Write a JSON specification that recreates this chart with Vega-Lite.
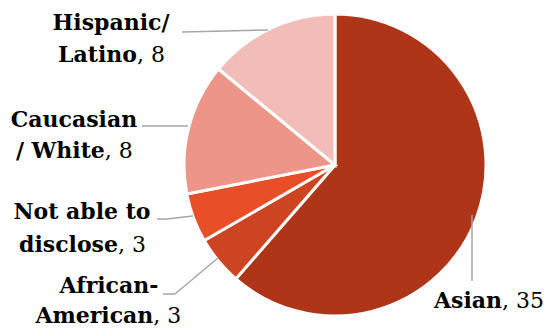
{
  "$schema": "https://vega.github.io/schema/vega-lite/v6.json",
  "width": 547,
  "height": 329,
  "autosize": {"type": "fit", "contains": "padding"},
  "padding": 0,
  "background": "white",
  "config": {"view": {"stroke": null}},
  "data": {"values": [
    {"category": "Asian", "count": 35, "rank": 1, "line1": "", "line2": "Asian"},
    {"category": "African-American", "count": 3, "rank": 2, "line1": "African-", "line2": "American"},
    {"category": "Not able to disclose", "count": 3, "rank": 3, "line1": "Not able to", "line2": "disclose"},
    {"category": "Caucasian / White", "count": 8, "rank": 4, "line1": "Caucasian", "line2": "/ White"},
    {"category": "Hispanic/ Latino", "count": 8, "rank": 5, "line1": "Hispanic/", "line2": "Latino"}
  ]},
  "transform": [
    {"window": [{"op": "sum", "field": "count", "as": "cum"}], "sort": [{"field": "rank"}], "frame": [null, 0]},
    {"joinaggregate": [{"op": "sum", "field": "count", "as": "total"}]},
    {"calculate": "2*PI*(datum.cum - datum.count/2)/datum.total", "as": "mid"},
    {"calculate": "151*sin(datum.mid)", "as": "ex"},
    {"calculate": "151*cos(datum.mid)", "as": "ey"},
    {"calculate": "', ' + datum.count", "as": "countText"}
  ],
  "encoding": {
    "x": {"field": "ex", "type": "quantitative", "scale": {"domain": [-335, 212], "nice": false, "zero": false}, "axis": null},
    "y": {"field": "ey", "type": "quantitative", "scale": {"domain": [-164, 165], "nice": false, "zero": false}, "axis": null}
  },
  "layer": [
    {
      "mark": {"type": "arc", "outerRadius": 151, "stroke": "white", "strokeWidth": 3},
      "encoding": {
        "x": {"datum": 0, "type": "quantitative"},
        "y": {"datum": 0, "type": "quantitative"},
        "theta": {"field": "count", "type": "quantitative", "stack": true},
        "order": {"field": "rank", "type": "quantitative"},
        "color": {"field": "category", "type": "nominal", "legend": null,
          "scale": {"domain": ["Asian", "African-American", "Not able to disclose", "Caucasian / White", "Hispanic/ Latino"],
                    "range": ["#AF3519", "#CC4520", "#E84E27", "#EE958A", "#F2BDB8"]}}
      }
    },
    {"transform": [{"filter": "datum.category === 'Hispanic/ Latino'"}],
     "mark": {"type": "rule", "color": "#A6A6A6", "strokeWidth": 1.5, "xOffset": -2.5, "yOffset": 1.5, "x2Offset": -88.5, "y2Offset": 3.5},
     "encoding": {"x2": {"field": "ex"}, "y2": {"field": "ey"}}},
    {"transform": [{"filter": "datum.category === 'Caucasian / White'"}],
     "mark": {"type": "rule", "color": "#A6A6A6", "strokeWidth": 1.5, "xOffset": -0.6, "yOffset": -1.9, "x2Offset": -46.6, "y2Offset": -1.9},
     "encoding": {"x2": {"field": "ex"}, "y2": {"field": "ey"}}},
    {"transform": [{"filter": "datum.category === 'Not able to disclose'"}],
     "mark": {"type": "rule", "color": "#A6A6A6", "strokeWidth": 1.5, "xOffset": -0.6, "yOffset": -1.9, "x2Offset": -26.6, "y2Offset": 1.1},
     "encoding": {"x2": {"field": "ex"}, "y2": {"field": "ey"}}},
    {"transform": [{"filter": "datum.category === 'Not able to disclose'"}],
     "mark": {"type": "rule", "color": "#A6A6A6", "strokeWidth": 1.5, "xOffset": -26.6, "yOffset": 1.1, "x2Offset": -36.6, "y2Offset": 1.1},
     "encoding": {"x2": {"field": "ex"}, "y2": {"field": "ey"}}},
    {"transform": [{"filter": "datum.category === 'African-American'"}],
     "mark": {"type": "rule", "color": "#A6A6A6", "strokeWidth": 1.5, "xOffset": -0.5, "yOffset": -3, "x2Offset": -43.5, "y2Offset": 33},
     "encoding": {"x2": {"field": "ex"}, "y2": {"field": "ey"}}},
    {"transform": [{"filter": "datum.category === 'African-American'"}],
     "mark": {"type": "rule", "color": "#A6A6A6", "strokeWidth": 1.5, "xOffset": -43.5, "yOffset": 33, "x2Offset": -55.5, "y2Offset": 33},
     "encoding": {"x2": {"field": "ex"}, "y2": {"field": "ey"}}},
    {"transform": [{"filter": "datum.category === 'Asian'"}],
     "mark": {"type": "rule", "color": "#A6A6A6", "strokeWidth": 1.5, "xOffset": -4.4, "yOffset": -2.9, "x2Offset": -4.4, "y2Offset": 63.1},
     "encoding": {"x2": {"field": "ex"}, "y2": {"field": "ey"}}},

    {"transform": [{"filter": "datum.category === 'Hispanic/ Latino'"}],
     "mark": {"type": "text", "font": "DejaVu Serif", "fontSize": 22, "fontWeight": "bold", "color": "#000000", "align": "center", "baseline": "alphabetic", "dx": -159.5, "dy": 1.5},
     "encoding": {"text": {"field": "line1"}}},
    {"transform": [{"filter": "datum.category === 'Hispanic/ Latino'"}],
     "mark": {"type": "text", "font": "DejaVu Serif", "fontSize": 22, "fontWeight": "bold", "color": "#000000", "align": "right", "baseline": "alphabetic", "dx": -133.6, "dy": 33.5},
     "encoding": {"text": {"field": "line2"}}},
    {"transform": [{"filter": "datum.category === 'Hispanic/ Latino'"}],
     "mark": {"type": "text", "font": "DejaVu Serif", "fontSize": 22, "fontWeight": "normal", "color": "#000000", "align": "left", "baseline": "alphabetic", "dx": -133.6, "dy": 33.5},
     "encoding": {"text": {"field": "countText"}}},

    {"transform": [{"filter": "datum.category === 'Caucasian / White'"}],
     "mark": {"type": "text", "font": "DejaVu Serif", "fontSize": 22, "fontWeight": "bold", "color": "#000000", "align": "center", "baseline": "alphabetic", "dx": -114.6, "dy": -1},
     "encoding": {"text": {"field": "line1"}}},
    {"transform": [{"filter": "datum.category === 'Caucasian / White'"}],
     "mark": {"type": "text", "font": "DejaVu Serif", "fontSize": 22, "fontWeight": "bold", "color": "#000000", "align": "right", "baseline": "alphabetic", "dx": -83.8, "dy": 30.4},
     "encoding": {"text": {"field": "line2"}}},
    {"transform": [{"filter": "datum.category === 'Caucasian / White'"}],
     "mark": {"type": "text", "font": "DejaVu Serif", "fontSize": 22, "fontWeight": "normal", "color": "#000000", "align": "left", "baseline": "alphabetic", "dx": -83.8, "dy": 30.4},
     "encoding": {"text": {"field": "countText"}}},

    {"transform": [{"filter": "datum.category === 'Not able to disclose'"}],
     "mark": {"type": "text", "font": "DejaVu Serif", "fontSize": 22, "fontWeight": "bold", "color": "#000000", "align": "center", "baseline": "alphabetic", "dx": -111.6, "dy": 1.1},
     "encoding": {"text": {"field": "line1"}}},
    {"transform": [{"filter": "datum.category === 'Not able to disclose'"}],
     "mark": {"type": "text", "font": "DejaVu Serif", "fontSize": 22, "fontWeight": "bold", "color": "#000000", "align": "right", "baseline": "alphabetic", "dx": -75.6, "dy": 33.8},
     "encoding": {"text": {"field": "line2"}}},
    {"transform": [{"filter": "datum.category === 'Not able to disclose'"}],
     "mark": {"type": "text", "font": "DejaVu Serif", "fontSize": 22, "fontWeight": "normal", "color": "#000000", "align": "left", "baseline": "alphabetic", "dx": -75.6, "dy": 33.8},
     "encoding": {"text": {"field": "countText"}}},

    {"transform": [{"filter": "datum.category === 'African-American'"}],
     "mark": {"type": "text", "font": "DejaVu Serif", "fontSize": 22, "fontWeight": "bold", "color": "#000000", "align": "center", "baseline": "alphabetic", "dx": -109.5, "dy": 32.3},
     "encoding": {"text": {"field": "line1"}}},
    {"transform": [{"filter": "datum.category === 'African-American'"}],
     "mark": {"type": "text", "font": "DejaVu Serif", "fontSize": 22, "fontWeight": "bold", "color": "#000000", "align": "right", "baseline": "alphabetic", "dx": -65.1, "dy": 62},
     "encoding": {"text": {"field": "line2"}}},
    {"transform": [{"filter": "datum.category === 'African-American'"}],
     "mark": {"type": "text", "font": "DejaVu Serif", "fontSize": 22, "fontWeight": "normal", "color": "#000000", "align": "left", "baseline": "alphabetic", "dx": -65.1, "dy": 62},
     "encoding": {"text": {"field": "countText"}}},

    {"transform": [{"filter": "datum.category === 'Asian'"}],
     "mark": {"type": "text", "font": "DejaVu Serif", "fontSize": 22, "fontWeight": "bold", "color": "#000000", "align": "right", "baseline": "alphabetic", "dx": 25.7, "dy": 90.4},
     "encoding": {"text": {"field": "line2"}}},
    {"transform": [{"filter": "datum.category === 'Asian'"}],
     "mark": {"type": "text", "font": "DejaVu Serif", "fontSize": 22, "fontWeight": "normal", "color": "#000000", "align": "left", "baseline": "alphabetic", "dx": 25.7, "dy": 90.4},
     "encoding": {"text": {"field": "countText"}}}
  ]
}
